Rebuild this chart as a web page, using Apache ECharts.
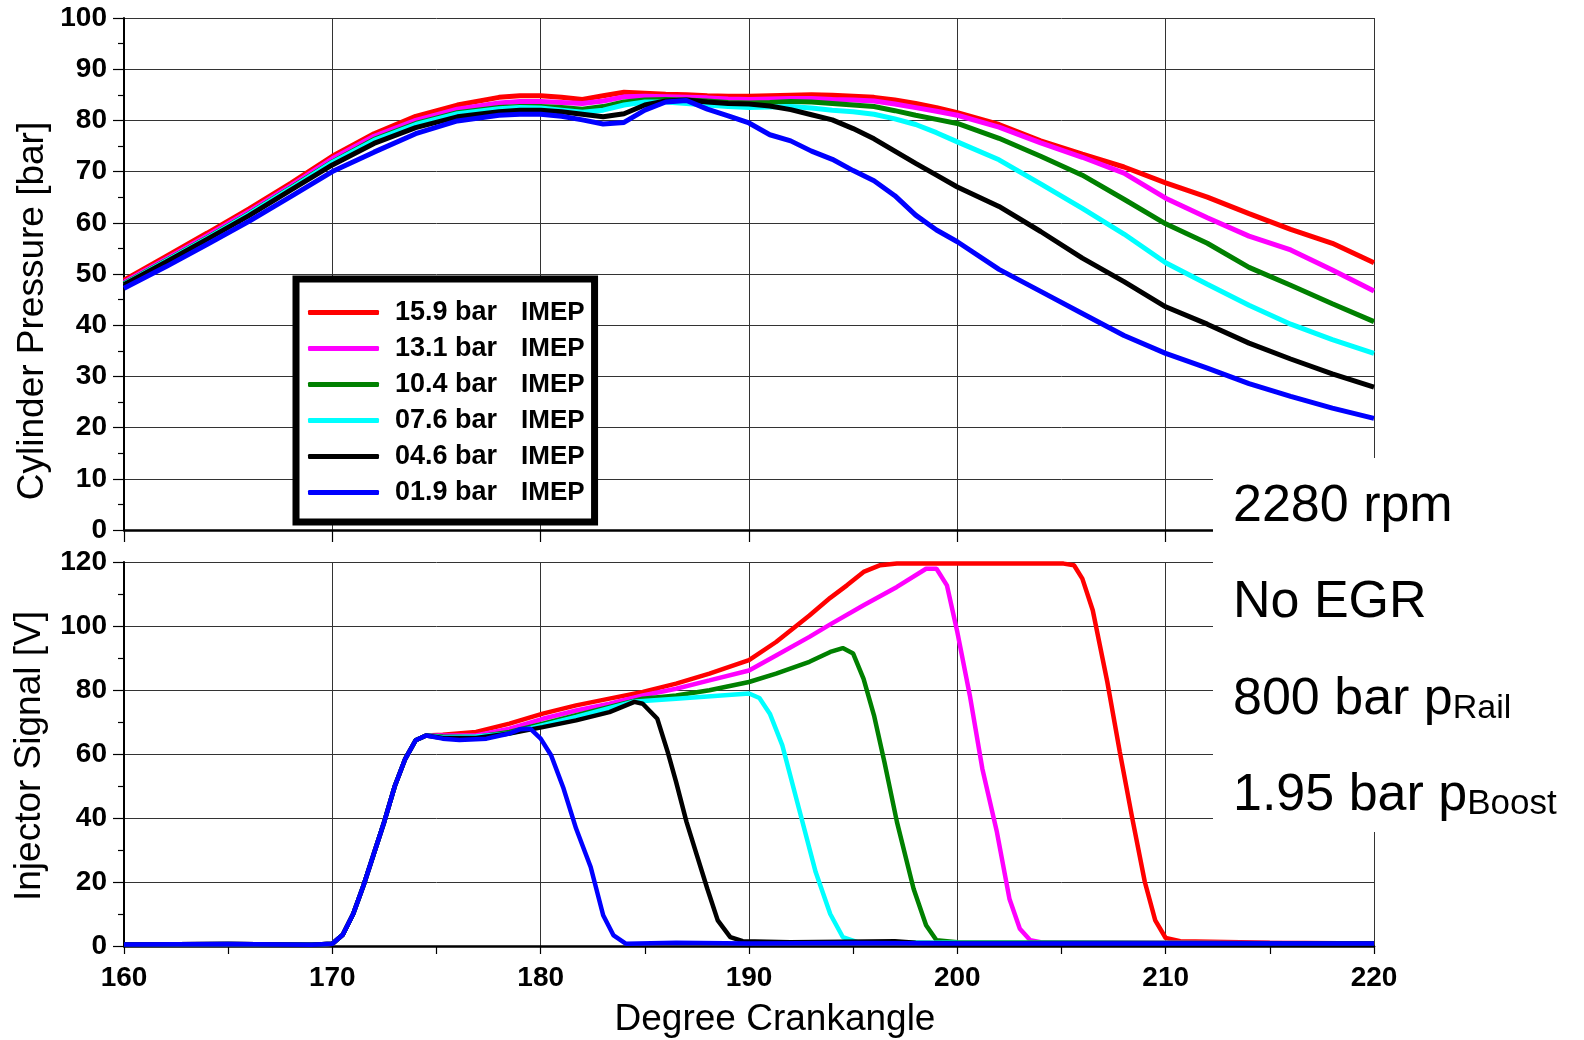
<!DOCTYPE html>
<html>
<head>
<meta charset="utf-8">
<script src="https://cdn.jsdelivr.net/npm/echarts@6/dist/echarts.min.js"></script>
<style>
  html, body { margin: 0; padding: 0; background: #fff; }
  #chart { width: 1584px; height: 1040px; }
</style>
</head>
<body>
<div id="chart"></div>
<script>
// load cases (IMEP) and their colours
var loadNames = ["15.9 bar", "13.1 bar", "10.4 bar", "07.6 bar", "04.6 bar", "01.9 bar"];
var loadColors = ["#ff0000", "#ff00ff", "#008000", "#00ffff", "#000000", "#0000ff"];

// cylinder pressure [bar] vs crank angle [deg]
var pressureDeg = [160, 162, 164, 166, 168, 170, 172, 174, 176, 178, 179, 180, 181, 182, 183, 184, 185, 186, 187, 188,
  189, 190, 191, 192, 193, 194, 195, 196, 197, 198, 199, 200, 202, 204, 206, 208, 210, 212, 214, 216, 218, 220];
var pRed = [48.8, 53.4, 58.0, 62.7, 67.7, 73.0, 77.4, 80.8, 83.0, 84.5, 84.8, 84.8, 84.5, 84.1, 84.8, 85.5, 85.3, 85.1, 85.0, 84.8,
  84.7, 84.7, 84.8, 84.9, 85.0, 84.9, 84.7, 84.5, 84.0, 83.3, 82.5, 81.5, 79.2, 76.0, 73.4, 70.9, 67.8, 65.0, 61.8, 58.7, 56.0, 52.2];
var pMagenta = [48.4, 52.9, 57.5, 62.2, 67.2, 72.5, 76.9, 80.0, 82.2, 83.4, 83.7, 83.7, 83.5, 83.3, 83.8, 84.6, 84.7, 84.6, 84.5, 84.4,
  84.2, 84.1, 84.2, 84.3, 84.3, 84.1, 84.0, 83.8, 83.2, 82.5, 81.8, 81.0, 78.7, 75.6, 72.8, 69.7, 64.8, 61.0, 57.4, 54.7, 50.8, 46.7];
var pGreen = [48.1, 52.6, 57.1, 61.8, 66.8, 71.9, 76.3, 79.4, 81.5, 82.5, 82.7, 82.7, 82.5, 82.2, 82.7, 83.6, 84.0, 84.1, 84.0, 83.8,
  83.5, 83.4, 83.5, 83.7, 83.6, 83.3, 83.0, 82.7, 81.9, 81.0, 80.2, 79.4, 76.5, 73.0, 69.3, 64.6, 59.8, 56.0, 51.3, 47.8, 44.2, 40.7];
var pCyan = [48.0, 52.5, 57.0, 61.7, 66.7, 71.8, 76.1, 79.2, 81.3, 82.3, 82.5, 82.4, 82.0, 81.6, 82.0, 83.0, 83.6, 83.6, 83.3, 83.0,
  82.7, 82.5, 82.6, 82.7, 82.4, 82.0, 81.7, 81.2, 80.3, 79.2, 77.6, 75.8, 72.3, 67.6, 62.8, 57.8, 52.2, 48.0, 43.9, 40.2, 37.2, 34.5];
var pBlack = [47.9, 52.3, 56.8, 61.4, 66.4, 71.3, 75.5, 78.6, 80.7, 81.7, 82.0, 82.0, 81.7, 81.2, 80.7, 81.3, 83.0, 83.8, 84.0, 83.6,
  83.3, 83.2, 82.8, 82.1, 81.1, 80.1, 78.4, 76.4, 74.0, 71.6, 69.3, 67.0, 63.2, 58.3, 53.1, 48.5, 43.6, 40.2, 36.5, 33.4, 30.5, 27.9];
var pBlue = [47.2, 51.4, 55.8, 60.3, 65.1, 70.0, 73.8, 77.4, 79.9, 81.0, 81.2, 81.2, 80.8, 80.1, 79.3, 79.6, 82.0, 83.6, 83.9, 82.2,
  80.9, 79.5, 77.2, 76.0, 74.0, 72.4, 70.2, 68.2, 65.3, 61.5, 58.6, 56.3, 50.9, 46.6, 42.3, 38.0, 34.5, 31.6, 28.6, 26.1, 23.8, 21.8];

// injector signal [V] as [crank angle, volts]
var injRise = [[160, 0.5], [165, 0.6], [169, 0.4], [170, 0.7], [170.5, 3.5], [171, 10], [171.5, 19], [172, 29],
  [172.5, 39], [173, 50], [173.5, 58.5], [174, 64.3], [174.5, 65.8]];
var injRed = [[175.3, 66], [176.9, 66.9], [178.5, 69.5], [180.1, 72.6], [181.7, 75.2], [183.3, 77.3], [184.9, 79.4],
  [186.5, 82], [188.1, 85.1], [190, 89.3], [191.3, 95], [192.9, 103.3], [193.9, 108.8], [194.7, 112.7], [195.5, 116.9],
  [196.3, 119], [197.1, 119.5], [205.1, 119.5], [205.6, 119], [206, 114.8], [206.5, 104.9], [207.2, 82.5], [207.8, 60.6],
  [208.4, 39.8], [209, 20], [209.5, 8], [210, 2.5], [210.7, 1.5], [215, 1.0], [220, 0.8]];
var injMagenta = [[175.3, 65.8], [176.9, 65.8], [178.5, 67.9], [180.1, 71], [181.7, 73.6], [183.3, 75.7], [184.9, 78.3],
  [186.5, 80.4], [188.1, 83], [190, 86.1], [191.3, 90.8], [192.9, 96.6], [193.9, 100.5], [195.5, 106.5], [197.1, 112.2],
  [198.5, 117.9], [199, 117.9], [199.5, 112.7], [200, 98.1], [200.6, 78.3], [201.2, 55.4], [201.9, 35.6], [202.5, 14.8],
  [203, 5.4], [203.5, 1.8], [204, 1.2], [220, 0.8]];
var injGreen = [[175.3, 65.5], [176.9, 65.3], [178.5, 66.9], [180.1, 69.5], [181.7, 72.1], [183.3, 74.7], [184.9, 77.3],
  [186.5, 78.3], [188.1, 79.9], [190, 82.5], [191.3, 85.1], [192.9, 88.8], [193.9, 91.9], [194.5, 93.1], [195, 91.4],
  [195.5, 83.5], [196, 72.1], [196.5, 57.5], [197.1, 38.8], [197.9, 17.9], [198.5, 6.5], [199, 1.8], [200, 1.2], [220, 0.8]];
var injCyan = [[175.3, 65.2], [176.9, 65.5], [178.5, 66.4], [180.1, 69], [181.7, 71.6], [184.4, 76.3], [186.5, 77.3],
  [188, 78], [190, 78.9], [190.5, 77.5], [191, 72.6], [191.6, 62.7], [192.4, 42.9], [193.2, 23.1], [193.9, 10],
  [194.5, 2.8], [195.2, 1.2], [200, 1.0], [220, 0.8]];
var injBlack = [[175.3, 65], [176.9, 65], [178.5, 66.4], [180.1, 68.4], [181.7, 70.5], [183.3, 73.1], [184.5, 76.3],
  [184.9, 75.7], [185.6, 71], [186.1, 60.6], [186.5, 51.3], [187, 38.8], [187.5, 28.3], [188, 17.9], [188.5, 8],
  [189.1, 2.8], [189.7, 1.5], [192, 1.2], [197, 1.5], [198, 1.0], [200, 0.8], [220, 0.8]];
var injBlue = [[175.3, 64.8], [176.1, 64.4], [177.4, 64.8], [178.5, 66.4], [179, 67.7], [179.5, 67.9], [180, 64.8],
  [180.5, 59.6], [181.1, 49.2], [181.7, 36.7], [182.4, 24.7], [183, 9.6], [183.5, 3.3], [184.1, 0.7], [186.5, 1.0],
  [190, 0.8], [195, 0.9], [200, 0.8], [210, 0.8], [220, 0.8]];

var chart = echarts.init(document.getElementById("chart"));

var pressureSets = [pRed, pMagenta, pGreen, pCyan, pBlack, pBlue];
var injectorSets = [injRed, injMagenta, injGreen, injCyan, injBlack, injBlue];

var FONT = "Liberation Sans";
var axisLabelStyle = { fontFamily: FONT, fontWeight: "bold", fontSize: 28, color: "#000" };
var gridLine = { show: true, lineStyle: { color: "#333", width: 1 } };
var blackLine = { color: "#000", width: 1.2 };

var series = [];
for (var i = 0; i < loadNames.length; i++) {
  var pts = [];
  for (var j = 0; j < pressureDeg.length; j++) {
    pts.push([pressureDeg[j], pressureSets[i][j]]);
  }
  series.push({
    name: loadNames[i],
    type: "line",
    xAxisIndex: 0,
    yAxisIndex: 0,
    showSymbol: false,
    color: loadColors[i],
    lineStyle: { width: 5, color: loadColors[i] },
    data: pts,
  });
}
for (var k = 0; k < loadNames.length; k++) {
  series.push({
    name: loadNames[k],
    type: "line",
    xAxisIndex: 1,
    yAxisIndex: 1,
    showSymbol: false,
    color: loadColors[k],
    lineStyle: { width: 4.5, color: loadColors[k] },
    data: injRise.concat(injectorSets[k]),
  });
}

var option = {
  backgroundColor: "#fff",
  animation: false,
  grid: [
    { left: 124, right: 210, top: 18, height: 512 },
    { left: 124, right: 210, top: 562, height: 384 },
  ],
  xAxis: [
    {
      gridIndex: 0,
      type: "value",
      min: 160,
      max: 220,
      interval: 10,
      axisLine: { show: true, onZero: false, lineStyle: { color: "#000", width: 2.5 } },
      axisTick: { show: true, length: 12, lineStyle: blackLine },
      axisLabel: { show: false },
      splitLine: gridLine,
    },
    {
      gridIndex: 1,
      type: "value",
      min: 160,
      max: 220,
      interval: 10,
      axisLine: { show: true, onZero: false, lineStyle: { color: "#000", width: 2.5 } },
      axisTick: { show: true, length: 8, lineStyle: blackLine },
      minorTick: { show: true, splitNumber: 2, length: 8, lineStyle: blackLine },
      axisLabel: Object.assign({ margin: 18 }, axisLabelStyle),
      splitLine: gridLine,
    },
  ],
  yAxis: [
    {
      gridIndex: 0,
      type: "value",
      min: 0,
      max: 100,
      interval: 10,
      axisLine: { show: true, lineStyle: { color: "#000", width: 2 } },
      axisTick: { show: true, length: 11, lineStyle: blackLine },
      minorTick: { show: true, splitNumber: 2, length: 6, lineStyle: blackLine },
      axisLabel: Object.assign({ margin: 17 }, axisLabelStyle),
      splitLine: gridLine,
    },
    {
      gridIndex: 1,
      type: "value",
      min: 0,
      max: 120,
      interval: 20,
      axisLine: { show: true, lineStyle: { color: "#000", width: 2 } },
      axisTick: { show: true, length: 11, lineStyle: blackLine },
      minorTick: { show: true, splitNumber: 2, length: 6, lineStyle: blackLine },
      axisLabel: Object.assign({ margin: 17 }, axisLabelStyle),
      splitLine: gridLine,
    },
  ],
  legend: {
    orient: "vertical",
    left: 296,
    top: 279,
    data: loadNames,
    icon: "roundRect",
    itemWidth: 71,
    itemHeight: 5,
    itemGap: 9,
    padding: [20, 10, 16, 12],
    backgroundColor: "#fff",
    borderColor: "#000",
    borderWidth: 7,
    selectedMode: false,
    formatter: function (n) {
      return "{a|" + n + "}{b|IMEP}";
    },
    textStyle: {
      rich: {
        a: { fontFamily: FONT, fontWeight: "bold", fontSize: 27, color: "#000", width: 126, padding: [0, 0, 0, 11], lineHeight: 30 },
        b: { fontFamily: FONT, fontWeight: "bold", fontSize: 26, color: "#000", lineHeight: 30 },
      },
    },
  },
  graphic: [
    { type: "rect", z: 100, shape: { x: 1213, y: 458, width: 371, height: 374 }, style: { fill: "#fff" } },
    {
      type: "text", z: 101, x: 1233, y: 507,
      style: { text: "2280 rpm", font: '52px "Liberation Sans"', fill: "#000", align: "left", verticalAlign: "middle" },
    },
    {
      type: "text", z: 101, x: 1233, y: 603,
      style: { text: "No EGR", font: '52px "Liberation Sans"', fill: "#000", align: "left", verticalAlign: "middle" },
    },
    {
      type: "text", z: 101, x: 1233, y: 696,
      style: {
        text: "{m|800 bar p}{s|Rail}", fill: "#000", align: "left", verticalAlign: "middle",
        rich: {
          m: { fontFamily: FONT, fontSize: 52, lineHeight: 60, verticalAlign: "bottom", fill: "#000" },
          s: { fontFamily: FONT, fontSize: 34, lineHeight: 20, verticalAlign: "bottom", fill: "#000" },
        },
      },
    },
    {
      type: "text", z: 101, x: 1233, y: 792,
      style: {
        text: "{m|1.95 bar p}{s|Boost}", fill: "#000", align: "left", verticalAlign: "middle",
        rich: {
          m: { fontFamily: FONT, fontSize: 52, lineHeight: 60, verticalAlign: "bottom", fill: "#000" },
          s: { fontFamily: FONT, fontSize: 35, lineHeight: 48, verticalAlign: "bottom", fill: "#000" },
        },
      },
    },
    {
      type: "text", z: 101, x: 33, y: 311, rotation: Math.PI / 2,
      style: { text: "Cylinder Pressure [bar]", font: '37px "Liberation Sans"', fill: "#000", align: "center", verticalAlign: "middle" },
    },
    {
      type: "text", z: 101, x: 30, y: 756, rotation: Math.PI / 2,
      style: { text: "Injector Signal [V]", font: '37px "Liberation Sans"', fill: "#000", align: "center", verticalAlign: "middle" },
    },
    {
      type: "text", z: 101, x: 775, y: 1020,
      style: { text: "Degree Crankangle", font: '37px "Liberation Sans"', fill: "#000", align: "center", verticalAlign: "middle" },
    },
  ],
  series: series,
};

chart.setOption(option);
</script>
</body>
</html>
